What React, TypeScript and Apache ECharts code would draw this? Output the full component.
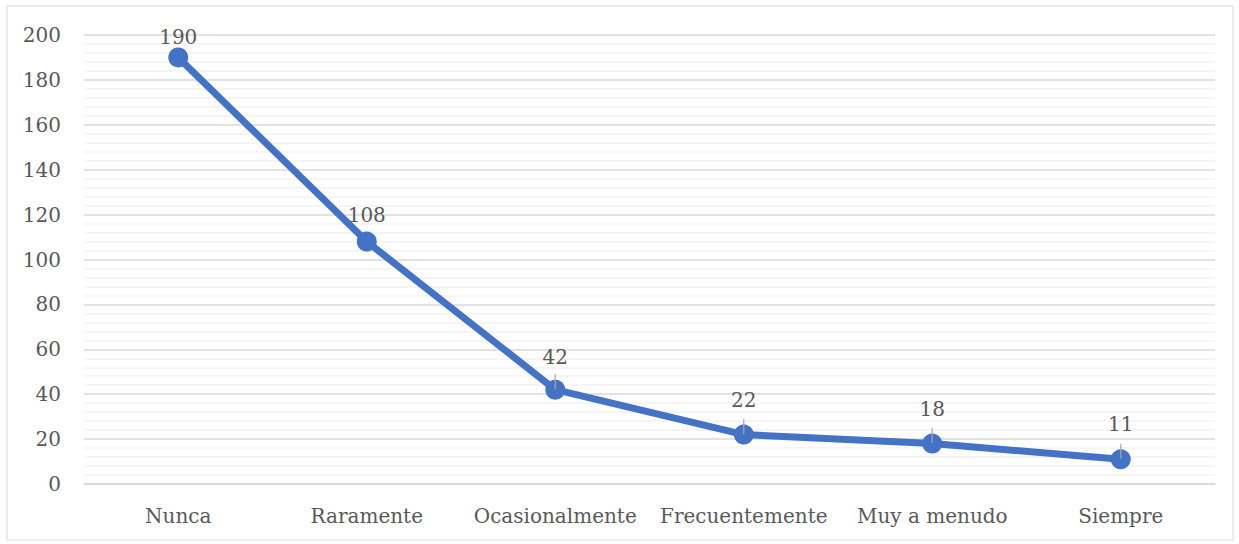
import React, { useEffect, useRef } from "react";
import * as echarts from "echarts";

const categories = ["Nunca", "Raramente", "Ocasionalmente", "Frecuentemente", "Muy a menudo", "Siempre"];
const values = [190, 108, 42, 22, 18, 11];
const yTicks = [0, 20, 40, 60, 80, 100, 120, 140, 160, 180, 200];

const FONT = "DejaVu Serif";
const labelDistances = [0, 7, 13, 15, 15, 15];

export default function App() {
  const ref = useRef<HTMLDivElement>(null);
  useEffect(() => {
    document.body.style.margin = "0";
    if (!ref.current) return;
    const chart = echarts.init(ref.current, null, { renderer: "svg" });
    const yMin = yTicks[0];
    const yMax = yTicks[yTicks.length - 1];
    const interval = yTicks[1] - yTicks[0];
    chart.setOption({
      animation: false,
      backgroundColor: "#ffffff",
      graphic: [
        {
          type: "rect",
          shape: { x: 7, y: 6, width: 1226, height: 534 },
          style: { fill: "none", stroke: "#D9D9D9", lineWidth: 1 },
          silent: true,
        },
      ],
      grid: { left: 84, right: 24, top: 35, bottom: 60 },
      xAxis: {
        type: "category",
        data: categories,
        boundaryGap: true,
        axisLine: { lineStyle: { color: "#D9D9D9", width: 1.5 } },
        axisTick: { show: false },
        axisLabel: { color: "#595959", fontFamily: FONT, fontSize: 20, margin: 22, interval: 0 },
      },
      yAxis: {
        type: "value",
        min: yMin,
        max: yMax,
        interval: interval,
        axisLine: { show: false },
        axisTick: { show: false },
        axisLabel: { color: "#595959", fontFamily: FONT, fontSize: 20, margin: 23 },
        splitLine: { lineStyle: { color: "#D9D9D9", width: 1.5 } },
        minorTick: { show: false, splitNumber: 5 },
        minorSplitLine: { show: true, lineStyle: { color: "#F2F2F2", width: 1.5 } },
      },
      series: [
        {
          type: "line",
          data: values.map((v, i) => ({
            value: v,
            label: { distance: labelDistances[i] },
          })),
          lineStyle: { color: "#4472C4", width: 7 },
          itemStyle: { color: "#4472C4" },
          symbol: "circle",
          symbolSize: 20,
          z: 2,
          label: {
            show: true,
            position: "top",
            color: "#595959",
            fontFamily: FONT,
            fontSize: 20,
          },
        },
        {
          type: "scatter",
          data: values.map((v, i) => (i >= 2 ? v : null)),
          symbol: "rect",
          symbolSize: [1.5, 15],
          symbolOffset: [0, -8],
          itemStyle: { color: "#A6A6A6" },
          z: 3,
          silent: true,
        },
      ],
    });
    return () => chart.dispose();
  }, []);
  return <div ref={ref} style={{ width: 1239, height: 544 }} />;
}
